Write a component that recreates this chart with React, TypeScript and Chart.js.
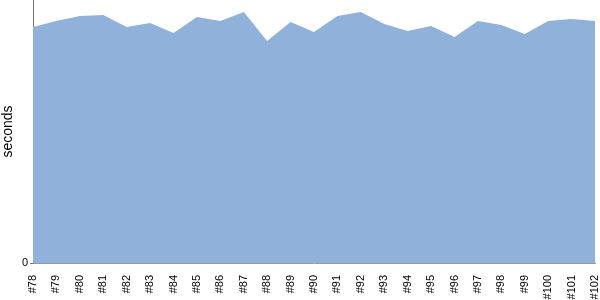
import React, { useEffect, useRef } from "react";
import { Chart, registerables } from "chart.js";

Chart.register(...registerables);

const builds = ["#78","#79","#80","#81","#82","#83","#84","#85","#86","#87","#88","#89","#90","#91","#92","#93","#94","#95","#96","#97","#98","#99","#100","#101","#102"];
const durations = [236, 242, 247, 248, 236, 240, 230, 246, 242, 251, 222, 241, 231, 247, 251, 239, 232, 237, 226, 242, 238, 229, 242, 244, 242];
const yTicks = [0];

export default function App() {
  const ref = useRef<HTMLCanvasElement>(null);
  useEffect(() => {
    document.body.style.margin = "0";
    const ctx = ref.current!;
    const chart = new Chart(ctx, {
      type: "line",
      data: {
        labels: builds,
        datasets: [
          {
            data: durations,
            fill: "origin",
            backgroundColor: "#8fb1da",
            borderWidth: 0,
            borderColor: "#8fb1da",
            pointRadius: 0,
            tension: 0,
          },
        ],
      },
      options: {
        animation: false,
        responsive: false,
        layout: { padding: { top: 0, right: 5, left: 0, bottom: 0 } },
        plugins: { legend: { display: false }, tooltip: { enabled: false } },
        scales: {
          x: {
            offset: false,
            grid: { display: false },
            border: { display: true, color: "#999", width: 1 },
            ticks: {
              minRotation: 90,
              maxRotation: 90,
              autoSkip: false,
              color: "#000",
              padding: 4,
              font: { family: "'Liberation Sans', Arial, sans-serif", size: 11 },
            },
            afterFit: (s: any) => { s.height = 37; s.paddingLeft = 0; s.paddingRight = 0; },
          },
          y: {
            min: 0,
            max: 263,
            grid: { drawOnChartArea: false, drawTicks: true, tickLength: 3, color: "#777" },
            border: { display: true, color: "#777", width: 1 },
            afterBuildTicks: (s: any) => { s.ticks = yTicks.map((v) => ({ value: v })); },
            ticks: {
              color: "#000",
              padding: 2,
              font: { family: "'Liberation Sans', Arial, sans-serif", size: 11 },
            },
            title: {
              display: true,
              text: "seconds",
              color: "#000",
              padding: { top: 0, bottom: 0, y: 2 } as any,
              font: { family: "'Liberation Sans', Arial, sans-serif", size: 14 },
            },
            afterFit: (s: any) => { s.width = 33; s.paddingTop = 0; s.paddingBottom = 0; },
          },
        },
      },
    });
    return () => chart.destroy();
  }, []);
  return <canvas ref={ref} width={600} height={300} style={{ display: "block" }} />;
}
